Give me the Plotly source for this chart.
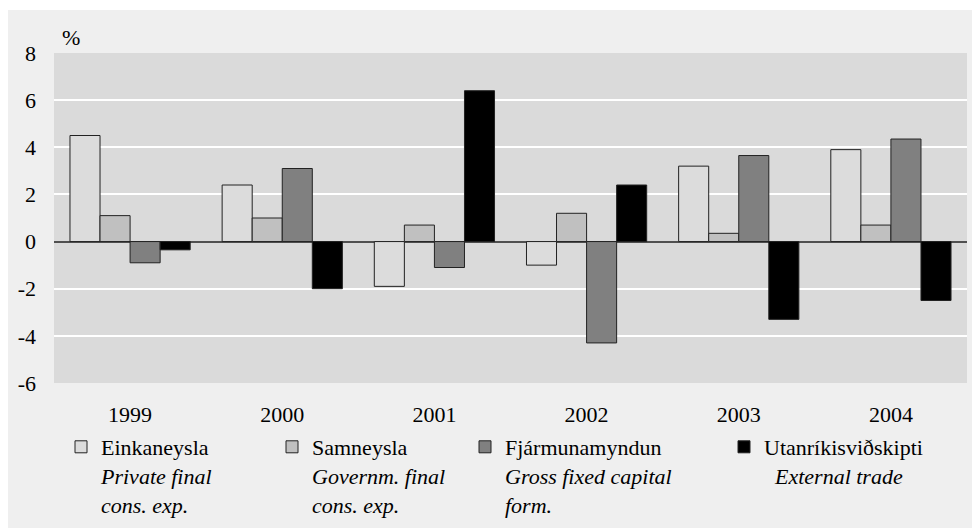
import plotly.graph_objects as go

years = ["1999", "2000", "2001", "2002", "2003", "2004"]
einkaneysla = [4.5, 2.4, -1.9, -1.0, 3.2, 3.9]
samneysla = [1.1, 1.0, 0.7, 1.2, 0.35, 0.7]
fjarmunamyndun = [-0.9, 3.1, -1.1, -4.3, 3.65, 4.35]
utanrikis = [-0.35, -2.0, 6.4, 2.4, -3.3, -2.5]

y_tick_vals = [-6, -4, -2, 0, 2, 4, 6, 8]
y_tick_text = ["-6", "-4", "-2", "0", "2", "4", "6", "8"]

series_names = [
    "Einkaneysla<br><i>Private final</i><br><i>cons. exp.</i>",
    "Samneysla<br><i>Governm. final</i><br><i>cons. exp.</i>",
    "Fjármunamyndun<br><i>Gross fixed capital</i><br><i>form.</i>",
    "Utanríkisviðskipti<br>&nbsp;&nbsp;<i>External trade</i>",
]
series_values = [einkaneysla, samneysla, fjarmunamyndun, utanrikis]
colors = ["#dcdcdc", "#c0c0c0", "#808080", "#000000"]
legend_ids = ["legend", "legend2", "legend3", "legend4"]
legend_x_px = [53, 264, 457, 716]

FONT = "Liberation Serif"
FS = 22
W, H = 980, 528
L, R, T, B = 46, 21, 45, 153
pw = W - L - R
ph = H - T - B

fig = go.Figure()
for name, vals, col, lg in zip(series_names, series_values, colors, legend_ids):
    fig.add_trace(go.Bar(
        x=years, y=vals, name=name, legend=lg,
        marker=dict(color=col, line=dict(color="#222222", width=1)),
    ))

def px2x(px):
    return (px - L) / pw

def py2y(py):
    return (H - B - py) / ph

legend_common = dict(
    font=dict(family=FONT, size=FS, color="black"),
    bgcolor="rgba(0,0,0,0)",
    borderwidth=0,
    valign="top",
    xanchor="left",
    yanchor="top",
    y=py2y(418),
)
layout_legends = {}
for lg, xp in zip(legend_ids, legend_x_px):
    layout_legends[lg] = dict(legend_common, x=px2x(xp))

fig.update_layout(
    width=W, height=H,
    margin=dict(l=L, r=R, t=T, b=B, pad=0, autoexpand=False),
    paper_bgcolor="white",
    plot_bgcolor="rgba(0,0,0,0)",
    barmode="group",
    bargap=0.21,
    bargroupgap=0,
    font=dict(family=FONT, size=FS, color="black"),
    showlegend=True,
    **layout_legends,
    xaxis=dict(
        type="category",
        showgrid=False,
        showline=False,
        ticks="",
        ticklabelstandoff=16,
        tickfont=dict(family=FONT, size=FS),
    ),
    yaxis=dict(
        range=[-6, 8],
        tickmode="array",
        tickvals=y_tick_vals,
        ticktext=y_tick_text,
        showgrid=True,
        gridcolor="white",
        gridwidth=2,
        zeroline=True,
        zerolinecolor="#505050",
        zerolinewidth=1.5,
        showline=False,
        ticks="",
        ticklabelstandoff=17,
        tickfont=dict(family=FONT, size=FS),
    ),
    shapes=[
        dict(type="rect", xref="paper", yref="paper",
             x0=px2x(0), x1=px2x(980), y0=py2y(528), y1=py2y(2),
             fillcolor="#efefef", line=dict(width=0), layer="below"),
        dict(type="rect", xref="paper", yref="paper",
             x0=0, x1=1, y0=0, y1=1,
             fillcolor="#dadada", line=dict(width=0), layer="below"),
    ],
    annotations=[
        dict(text="%", xref="paper", yref="paper", x=px2x(52), y=1,
             xanchor="left", yanchor="bottom", yshift=1, showarrow=False,
             font=dict(family=FONT, size=FS, color="black")),
    ],
)

fig.write_html("out.html")
